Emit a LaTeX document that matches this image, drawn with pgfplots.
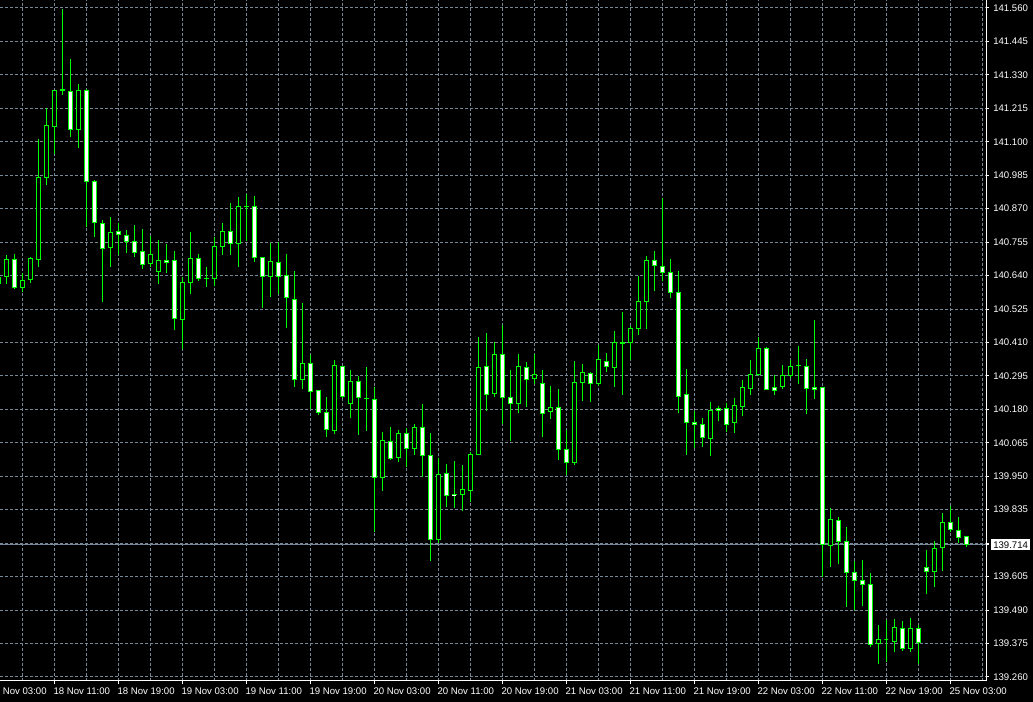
\documentclass[border=0pt]{standalone}
\usepackage{pgfplots}
\pgfplotsset{compat=1.18}
\usepackage{pgfplotstable}
\usepackage{fontspec}
\setmainfont{Liberation Sans}
\definecolor{mtgrid}{RGB}{119,136,153}
\definecolor{mtgreen}{RGB}{0,255,0}

\pgfplotstableread{
i O H L C
-1 140.635 140.642 140.597 140.614
0 140.636 140.711 140.611 140.696
1 140.696 140.714 140.594 140.600
2 140.600 140.650 140.583 140.624
3 140.627 140.705 140.616 140.699
4 140.694 141.110 140.671 140.978
5 140.978 141.217 140.951 141.157
6 141.152 141.278 141.058 141.278
7 141.278 141.557 141.261 141.280
8 141.274 141.385 141.118 141.143
9 141.143 141.299 141.080 141.278
10 141.278 141.280 140.808 140.963
11 140.965 140.969 140.774 140.823
12 140.820 140.831 140.550 140.734
13 140.737 140.840 140.671 140.789
14 140.792 140.822 140.711 140.782
15 140.779 140.797 140.719 140.758
16 140.758 140.814 140.705 140.720
17 140.724 140.800 140.664 140.679
18 140.682 140.776 140.671 140.713
19 140.653 140.762 140.612 140.693
20 140.693 140.748 140.650 140.686
21 140.693 140.725 140.454 140.493
22 140.490 140.636 140.389 140.617
23 140.617 140.790 140.578 140.699
24 140.699 140.714 140.622 140.631
25 140.631 140.669 140.602 140.630
26 140.631 140.772 140.604 140.741
27 140.741 140.820 140.711 140.792
28 140.792 140.890 140.711 140.751
29 140.751 140.910 140.671 140.878
30 140.878 140.920 140.758 140.877
31 140.878 140.914 140.688 140.703
32 140.703 140.703 140.530 140.638
33 140.638 140.751 140.567 140.689
34 140.686 140.754 140.578 140.638
35 140.641 140.714 140.461 140.565
36 140.559 140.655 140.256 140.283
37 140.283 140.545 140.249 140.338
38 140.338 140.366 140.180 140.242
39 140.246 140.246 140.161 140.170
40 140.170 140.222 140.086 140.112
41 140.108 140.349 140.096 140.332
42 140.328 140.328 140.219 140.225
43 140.201 140.314 140.151 140.277
44 140.277 140.294 140.093 140.222
45 140.217 140.325 140.107 140.218
46 140.215 140.256 139.757 139.947
47 139.947 140.101 139.900 140.074
48 140.070 140.118 140.007 140.012
49 140.015 140.108 140.000 140.098
50 140.098 140.115 139.983 140.046
51 140.046 140.129 140.024 140.118
52 140.118 140.198 139.949 140.022
53 140.022 140.098 139.658 139.733
54 139.733 140.012 139.720 139.957
55 139.960 139.992 139.845 139.885
56 139.887 140.002 139.842 139.886
57 139.888 139.988 139.830 139.905
58 139.902 140.032 139.861 140.026
59 140.026 140.429 140.022 140.325
60 140.328 140.442 140.173 140.232
61 140.235 140.411 140.222 140.369
62 140.369 140.469 140.129 140.222
63 140.222 140.314 140.072 140.201
64 140.201 140.369 140.167 140.328
65 140.325 140.342 140.187 140.283
66 140.287 140.369 140.266 140.301
67 140.270 140.314 140.084 140.167
68 140.173 140.259 140.148 140.187
69 140.187 140.249 140.005 140.043
70 140.043 140.108 139.953 139.998
71 139.998 140.345 139.988 140.273
72 140.273 140.335 140.208 140.308
73 140.304 140.308 140.204 140.270
74 140.270 140.400 140.260 140.352
75 140.345 140.373 140.308 140.328
76 140.325 140.448 140.258 140.411
77 140.408 140.514 140.231 140.409
78 140.411 140.466 140.351 140.459
79 140.459 140.638 140.437 140.552
80 140.552 140.706 140.455 140.693
81 140.693 140.724 140.586 140.675
82 140.672 140.907 140.620 140.651
83 140.651 140.696 140.562 140.583
84 140.583 140.655 140.167 140.225
85 140.232 140.318 140.024 140.136
86 140.136 140.173 140.048 140.129
87 140.129 140.149 140.050 140.084
88 140.081 140.204 140.021 140.177
89 140.184 140.191 140.139 140.177
90 140.184 140.201 140.101 140.129
91 140.136 140.218 140.098 140.194
92 140.191 140.280 140.156 140.256
93 140.253 140.349 140.228 140.301
94 140.301 140.428 140.295 140.390
95 140.390 140.393 140.246 140.249
96 140.256 140.297 140.228 140.246
97 140.259 140.332 140.249 140.297
98 140.297 140.349 140.287 140.328
99 140.330 140.398 140.268 140.331
100 140.328 140.352 140.163 140.253
101 140.256 140.486 140.214 140.249
102 140.256 140.256 139.603 139.716
103 139.713 139.840 139.639 139.802
104 139.799 139.809 139.647 139.727
105 139.727 139.775 139.500 139.620
106 139.620 139.658 139.489 139.592
107 139.592 139.661 139.503 139.579
108 139.579 139.617 139.364 139.372
109 139.376 139.438 139.304 139.390
110 139.390 139.454 139.313 139.390
111 139.383 139.458 139.344 139.431
112 139.427 139.451 139.350 139.359
113 139.359 139.462 139.347 139.427
114 139.427 139.438 139.304 139.379
115 139.637 139.696 139.544 139.623
116 139.623 139.727 139.568 139.702
117 139.706 139.823 139.623 139.792
118 139.792 139.847 139.757 139.768
119 139.764 139.809 139.720 139.740
120 139.744 139.744 139.706 139.714
}\candles

\begin{document}
\begin{tikzpicture}
\fill[black] (0pt,0pt) rectangle (774.75pt,526.5pt);
\begin{axis}[
  at={(0pt,15.75pt)}, anchor=south west,
  width=739.5pt, height=510.75pt, scale only axis,
  xmin=-0.7875, xmax=122.46,
  ymin=139.246, ymax=141.5875,
  axis x line*=bottom, axis y line*=right,
  axis line style={white, line width=0.75pt, -},
  clip mode=individual,
  xtick={6,14,...,118},
  xticklabels={18 Nov 11:00, 18 Nov 19:00, 19 Nov 03:00, 19 Nov 11:00, 19 Nov 19:00, 20 Nov 03:00, 20 Nov 11:00, 20 Nov 19:00, 21 Nov 03:00, 21 Nov 11:00, 21 Nov 19:00, 22 Nov 03:00, 22 Nov 11:00, 22 Nov 19:00, 25 Nov 03:00},
  minor xtick={2,10,...,122},
  ytick={139.260,139.375,139.490,139.605,139.720,139.835,139.950,140.065,140.180,140.295,140.410,140.525,140.640,140.755,140.870,140.985,141.100,141.215,141.330,141.445,141.560},
  yticklabels={139.260,139.375,139.490,139.605,139.720,139.835,139.950,140.065,140.180,140.295,140.410,140.525,140.640,140.755,140.870,140.985,141.100,141.215,141.330,141.445,141.560},
  grid=both,
  major grid style={mtgrid, line width=0.75pt, dash pattern=on 2.25pt off 1.5pt},
  minor grid style={mtgrid, line width=0.75pt, dash pattern=on 2.25pt off 1.5pt},
  tick align=outside,
  major tick length=2.25pt, minor tick length=0pt,
  tick style={white, line width=0.75pt},
  ticklabel style={font=\fontsize{7.2}{8}\selectfont, text=white},
  xticklabel style={anchor=north west, inner sep=0pt, xshift=-0.75pt, yshift=-3pt},
  yticklabel style={anchor=west, inner sep=0pt, xshift=3pt},
  extra y ticks={139.714},
  extra y tick labels={139.714},
  extra y tick style={major grid style={mtgrid, solid, line width=0.75pt},
    yticklabel style={fill=white, text=black, inner sep=1.5pt, xshift=-1.5pt}},
]
\pgfplotstablegetrowsof{\candles}
\pgfmathtruncatemacro{\lastrow}{\pgfplotsretval-1}
\pgfplotsforeachungrouped \r in {0,...,\lastrow}{%
  \pgfplotstablegetelem{\r}{i}\of\candles \let\ci\pgfplotsretval
  \pgfplotstablegetelem{\r}{O}\of\candles \let\co\pgfplotsretval
  \pgfplotstablegetelem{\r}{H}\of\candles \let\ch\pgfplotsretval
  \pgfplotstablegetelem{\r}{L}\of\candles \let\cl\pgfplotsretval
  \pgfplotstablegetelem{\r}{C}\of\candles \let\cc\pgfplotsretval
  \pgfmathsetmacro{\xa}{\ci-0.23}%
  \pgfmathsetmacro{\xb}{\ci+0.23}%
  \pgfmathtruncatemacro{\isup}{\cc>\co}%
  \ifnum\isup=1 \def\fc{black}\else\def\fc{white}\fi
  \edef\tmp{%
    \noexpand\addplot[mtgreen, line width=0.75pt, forget plot] coordinates {(\ci,\cl) (\ci,\ch)};%
    \noexpand\addplot[draw=mtgreen, line width=0.75pt, fill=\fc, forget plot] coordinates {(\xa,\co) (\xb,\co) (\xb,\cc) (\xa,\cc)} -- cycle;%
  }\tmp
}
\node[anchor=north west, inner sep=0pt, xshift=-0.75pt, yshift=-5.25pt, font=\fontsize{7.2}{8}\selectfont, text=white] at (axis cs:-2,139.246) {18 Nov 03:00};
\end{axis}
\pgfresetboundingbox
\useasboundingbox (0pt,0pt) rectangle (774.75pt,526.5pt);
\end{tikzpicture}
\end{document}
